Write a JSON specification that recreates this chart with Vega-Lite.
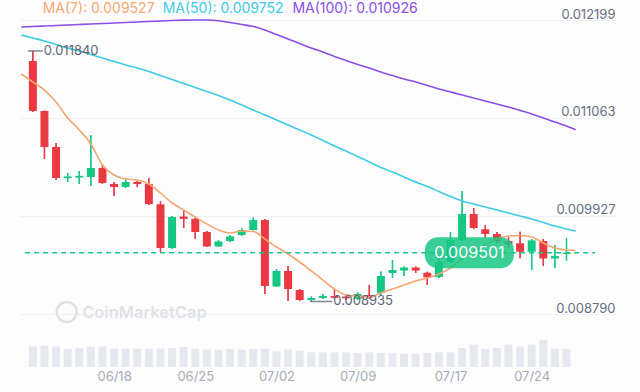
{
  "$schema": "https://vega.github.io/schema/vega-lite/v6.json",
  "width": 595,
  "height": 351,
  "padding": {"left": 20, "top": 16, "right": 25, "bottom": 25},
  "autosize": {"type": "none"},
  "background": "#fdfdfe",
  "config": {"font": "Inter", "view": {"stroke": null}},
  "datasets": {
    "candles": [
      {"d":"2024-06-11T00:00:00","o":0.011724,"h":0.01184,"l":0.011132,"c":0.011144,"v":20.6},
      {"d":"2024-06-12T00:00:00","o":0.011144,"h":0.01115,"l":0.010587,"c":0.010726,"v":21.3},
      {"d":"2024-06-13T00:00:00","o":0.010726,"h":0.010773,"l":0.010344,"c":0.010367,"v":20.6},
      {"d":"2024-06-14T00:00:00","o":0.010365,"h":0.010425,"l":0.010321,"c":0.010385,"v":18},
      {"d":"2024-06-15T00:00:00","o":0.010372,"h":0.010448,"l":0.010297,"c":0.010392,"v":19},
      {"d":"2024-06-16T00:00:00","o":0.010378,"h":0.010866,"l":0.010274,"c":0.010483,"v":20.3},
      {"d":"2024-06-17T00:00:00","o":0.010483,"h":0.010518,"l":0.010297,"c":0.010309,"v":20.6},
      {"d":"2024-06-18T00:00:00","o":0.010297,"h":0.010321,"l":0.010158,"c":0.010263,"v":18.3},
      {"d":"2024-06-19T00:00:00","o":0.010263,"h":0.010367,"l":0.010251,"c":0.010321,"v":18.3},
      {"d":"2024-06-20T00:00:00","o":0.010321,"h":0.010332,"l":0.010263,"c":0.010297,"v":18.3},
      {"d":"2024-06-21T00:00:00","o":0.010297,"h":0.010367,"l":0.010054,"c":0.010065,"v":18.3},
      {"d":"2024-06-22T00:00:00","o":0.010062,"h":0.0101,"l":0.009509,"c":0.009555,"v":18.3},
      {"d":"2024-06-23T00:00:00","o":0.009555,"h":0.009926,"l":0.009544,"c":0.009915,"v":19},
      {"d":"2024-06-24T00:00:00","o":0.00992,"h":0.009984,"l":0.009787,"c":0.009892,"v":20},
      {"d":"2024-06-25T00:00:00","o":0.009892,"h":0.009903,"l":0.00966,"c":0.009741,"v":18.3},
      {"d":"2024-06-26T00:00:00","o":0.009741,"h":0.009753,"l":0.009567,"c":0.009573,"v":17.3},
      {"d":"2024-06-27T00:00:00","o":0.009573,"h":0.009648,"l":0.009567,"c":0.009631,"v":17.3},
      {"d":"2024-06-28T00:00:00","o":0.009636,"h":0.009706,"l":0.009625,"c":0.009689,"v":18},
      {"d":"2024-06-29T00:00:00","o":0.009706,"h":0.009787,"l":0.009695,"c":0.009764,"v":17.3},
      {"d":"2024-06-30T00:00:00","o":0.009764,"h":0.009909,"l":0.009757,"c":0.00988,"v":18},
      {"d":"2024-07-01T00:00:00","o":0.00988,"h":0.009892,"l":0.009022,"c":0.009115,"v":18.3},
      {"d":"2024-07-02T00:00:00","o":0.009109,"h":0.009312,"l":0.009103,"c":0.009289,"v":15.6},
      {"d":"2024-07-03T00:00:00","o":0.009289,"h":0.009347,"l":0.008941,"c":0.00908,"v":17.3},
      {"d":"2024-07-04T00:00:00","o":0.009068,"h":0.00908,"l":0.008945,"c":0.008952,"v":16.3},
      {"d":"2024-07-05T00:00:00","o":0.008952,"h":0.008993,"l":0.008935,"c":0.008975,"v":14.6},
      {"d":"2024-07-06T00:00:00","o":0.008976,"h":0.009022,"l":0.008964,"c":0.008999,"v":14.6},
      {"d":"2024-07-07T00:00:00","o":0.008999,"h":0.00908,"l":0.008964,"c":0.008978,"v":14.6},
      {"d":"2024-07-08T00:00:00","o":0.008992,"h":0.009022,"l":0.008952,"c":0.008972,"v":14.6},
      {"d":"2024-07-09T00:00:00","o":0.008964,"h":0.009039,"l":0.008952,"c":0.009022,"v":14},
      {"d":"2024-07-10T00:00:00","o":0.00901,"h":0.009126,"l":0.008964,"c":0.008981,"v":14.6},
      {"d":"2024-07-11T00:00:00","o":0.009034,"h":0.009283,"l":0.00901,"c":0.009231,"v":14},
      {"d":"2024-07-12T00:00:00","o":0.009266,"h":0.009416,"l":0.009207,"c":0.0093,"v":14},
      {"d":"2024-07-13T00:00:00","o":0.009294,"h":0.009341,"l":0.009231,"c":0.009329,"v":13.3},
      {"d":"2024-07-14T00:00:00","o":0.009329,"h":0.009341,"l":0.009266,"c":0.009294,"v":13.3},
      {"d":"2024-07-15T00:00:00","o":0.009269,"h":0.009281,"l":0.009126,"c":0.009216,"v":14},
      {"d":"2024-07-16T00:00:00","o":0.009219,"h":0.009474,"l":0.009207,"c":0.009393,"v":14.6},
      {"d":"2024-07-17T00:00:00","o":0.009393,"h":0.009741,"l":0.009381,"c":0.009648,"v":14.6},
      {"d":"2024-07-18T00:00:00","o":0.009648,"h":0.010216,"l":0.009636,"c":0.00995,"v":19},
      {"d":"2024-07-19T00:00:00","o":0.00995,"h":0.010019,"l":0.009776,"c":0.009787,"v":22.3},
      {"d":"2024-07-20T00:00:00","o":0.009772,"h":0.009822,"l":0.009671,"c":0.009718,"v":18},
      {"d":"2024-07-21T00:00:00","o":0.009717,"h":0.009741,"l":0.009613,"c":0.009636,"v":19},
      {"d":"2024-07-22T00:00:00","o":0.009636,"h":0.00968,"l":0.00956,"c":0.0096,"v":22.3},
      {"d":"2024-07-23T00:00:00","o":0.00961,"h":0.009744,"l":0.009436,"c":0.009512,"v":20.6},
      {"d":"2024-07-24T00:00:00","o":0.009512,"h":0.00966,"l":0.0093,"c":0.009644,"v":22.3},
      {"d":"2024-07-25T00:00:00","o":0.009636,"h":0.009659,"l":0.009347,"c":0.009434,"v":27.3},
      {"d":"2024-07-26T00:00:00","o":0.009434,"h":0.00959,"l":0.009323,"c":0.009463,"v":18.3},
      {"d":"2024-07-27T00:00:00","o":0.009486,"h":0.009668,"l":0.00941,"c":0.009501,"v":18}
    ],
    "ma": [
      {"d":"2024-06-10T00:00:00","m7":0.011573,"m50":0.012025,"m100":0.012118},
      {"d":"2024-06-11T00:00:00","m7":0.01148,"m50":0.01199,"m100":0.012124},
      {"d":"2024-06-12T00:00:00","m7":0.011387,"m50":0.011956,"m100":0.012129},
      {"d":"2024-06-13T00:00:00","m7":0.011248,"m50":0.011915,"m100":0.012135},
      {"d":"2024-06-14T00:00:00","m7":0.011063,"m50":0.011874,"m100":0.012141},
      {"d":"2024-06-15T00:00:00","m7":0.010924,"m50":0.01184,"m100":0.012147},
      {"d":"2024-06-16T00:00:00","m7":0.010761,"m50":0.011799,"m100":0.012153},
      {"d":"2024-06-17T00:00:00","m7":0.010518,"m50":0.011758,"m100":0.012158},
      {"d":"2024-06-18T00:00:00","m7":0.010402,"m50":0.011718,"m100":0.012164},
      {"d":"2024-06-19T00:00:00","m7":0.010355,"m50":0.011677,"m100":0.01217},
      {"d":"2024-06-20T00:00:00","m7":0.010344,"m50":0.011642,"m100":0.012176},
      {"d":"2024-06-21T00:00:00","m7":0.010297,"m50":0.011602,"m100":0.012182},
      {"d":"2024-06-22T00:00:00","m7":0.010193,"m50":0.011555,"m100":0.012187},
      {"d":"2024-06-23T00:00:00","m7":0.010077,"m50":0.011509,"m100":0.012193},
      {"d":"2024-06-24T00:00:00","m7":0.009996,"m50":0.011463,"m100":0.012197},
      {"d":"2024-06-25T00:00:00","m7":0.009915,"m50":0.011416,"m100":0.012199},
      {"d":"2024-06-26T00:00:00","m7":0.009834,"m50":0.01137,"m100":0.012199},
      {"d":"2024-06-27T00:00:00","m7":0.009764,"m50":0.011324,"m100":0.012191},
      {"d":"2024-06-28T00:00:00","m7":0.009729,"m50":0.011271,"m100":0.01217},
      {"d":"2024-06-29T00:00:00","m7":0.009752,"m50":0.011213,"m100":0.012147},
      {"d":"2024-06-30T00:00:00","m7":0.009747,"m50":0.011155,"m100":0.012124},
      {"d":"2024-07-01T00:00:00","m7":0.00966,"m50":0.011097,"m100":0.012083},
      {"d":"2024-07-02T00:00:00","m7":0.009567,"m50":0.01104,"m100":0.012031},
      {"d":"2024-07-03T00:00:00","m7":0.009486,"m50":0.010982,"m100":0.011979},
      {"d":"2024-07-04T00:00:00","m7":0.009393,"m50":0.010924,"m100":0.011927},
      {"d":"2024-07-05T00:00:00","m7":0.009289,"m50":0.010866,"m100":0.011874},
      {"d":"2024-07-06T00:00:00","m7":0.009184,"m50":0.010802,"m100":0.011828},
      {"d":"2024-07-07T00:00:00","m7":0.00908,"m50":0.010738,"m100":0.011776},
      {"d":"2024-07-08T00:00:00","m7":0.00901,"m50":0.01068,"m100":0.011729},
      {"d":"2024-07-09T00:00:00","m7":0.008999,"m50":0.010616,"m100":0.011683},
      {"d":"2024-07-10T00:00:00","m7":0.008987,"m50":0.010553,"m100":0.011642},
      {"d":"2024-07-11T00:00:00","m7":0.009034,"m50":0.010489,"m100":0.011596},
      {"d":"2024-07-12T00:00:00","m7":0.00908,"m50":0.010437,"m100":0.011555},
      {"d":"2024-07-13T00:00:00","m7":0.009126,"m50":0.010379,"m100":0.011515},
      {"d":"2024-07-14T00:00:00","m7":0.009173,"m50":0.010321,"m100":0.01148},
      {"d":"2024-07-15T00:00:00","m7":0.009207,"m50":0.010268,"m100":0.01144},
      {"d":"2024-07-16T00:00:00","m7":0.009254,"m50":0.01021,"m100":0.011399},
      {"d":"2024-07-17T00:00:00","m7":0.009323,"m50":0.010152,"m100":0.011364},
      {"d":"2024-07-18T00:00:00","m7":0.009428,"m50":0.0101,"m100":0.011329},
      {"d":"2024-07-19T00:00:00","m7":0.00952,"m50":0.010066,"m100":0.011295},
      {"d":"2024-07-20T00:00:00","m7":0.00959,"m50":0.010031,"m100":0.01126},
      {"d":"2024-07-21T00:00:00","m7":0.00966,"m50":0.009996,"m100":0.011225},
      {"d":"2024-07-22T00:00:00","m7":0.009694,"m50":0.009961,"m100":0.01119},
      {"d":"2024-07-23T00:00:00","m7":0.0097,"m50":0.009926,"m100":0.01115},
      {"d":"2024-07-24T00:00:00","m7":0.009683,"m50":0.009892,"m100":0.011109},
      {"d":"2024-07-25T00:00:00","m7":0.009613,"m50":0.009851,"m100":0.011063},
      {"d":"2024-07-26T00:00:00","m7":0.009555,"m50":0.00981,"m100":0.011016},
      {"d":"2024-07-27T00:00:00","m7":0.009532,"m50":0.009776,"m100":0.01097},
      {"d":"2024-07-27T19:00:00","m7":0.009527,"m50":0.009752,"m100":0.010926}
    ]
  },
  "encoding": {
    "x": {
      "field": "d",
      "type": "temporal",
      "scale": {"domain": [{"year": 2024, "month": 6, "date": 10, "hours": 7, "minutes": 44}, {"year": 2024, "month": 7, "date": 30, "hours": 18}]},
      "axis": {
        "values": [{"year": 2024, "month": 6, "date": 18}, {"year": 2024, "month": 6, "date": 25}, {"year": 2024, "month": 7, "date": 2}, {"year": 2024, "month": 7, "date": 9}, {"year": 2024, "month": 7, "date": 17}, {"year": 2024, "month": 7, "date": 24}],
        "format": "%m/%d",
        "domain": false,
        "ticks": false,
        "grid": false,
        "labelPadding": 3,
        "labelFontSize": 13,
        "labelColor": "#a4abb8",
        "labelFlush": false,
        "title": null
      }
    }
  },
  "layer": [
    {
      "data": {"name": "candles"},
      "mark": {"type": "bar", "size": 8, "color": "#e5e8ee"},
      "encoding": {
        "y": {"field": "v", "type": "quantitative", "scale": {"domain": [0, 351]}, "axis": null}
      }
    },
    {
      "data": {"name": "candles"},
      "mark": {"type": "rule", "strokeWidth": 1.3},
      "encoding": {
        "y": {
          "field": "l",
          "type": "quantitative",
          "scale": {"domain": [0.0081755, 0.0122454], "nice": false, "zero": false},
          "axis": {
            "orient": "right",
            "values": [0.00879, 0.009927, 0.011063, 0.012199],
            "format": ".6f",
            "domain": false,
            "ticks": false,
            "tickSize": 0,
            "labelPadding": 0,
            "labelAlign": "right",
            "labelBaseline": "alphabetic",
            "labelOffset": -2,
            "labelFontSize": 13,
            "labelColor": "#656f81",
            "labelFlush": false,
            "grid": true,
            "gridColor": "#eef0f3",
            "gridWidth": 1,
            "title": null
          }
        },
        "y2": {"field": "h"},
        "color": {"condition": {"test": "datum.c >= datum.o", "value": "#16c784"}, "value": "#ea3943"}
      }
    },
    {
      "data": {"values": [{"d": "2024-06-15T06:00:00", "p": 0.0088016, "t": "CoinMarketCap"}]},
      "mark": {"type": "text", "align": "left", "baseline": "middle", "fontSize": 16.5, "fontWeight": 600, "color": "#dfe3e8"},
      "encoding": {
        "y": {"field": "p", "type": "quantitative", "scale": {"domain": [0.0081755, 0.0122454], "nice": false, "zero": false}, "axis": null},
        "text": {"field": "t"}
      }
    },
    {
      "data": {"values": [{"d": "2024-06-13T22:00:00", "p": 0.008813}]},
      "mark": {"type": "point", "shape": "circle", "size": 400, "filled": false, "strokeWidth": 2.5, "color": "#dfe3e8", "opacity": 1},
      "encoding": {
        "y": {"field": "p", "type": "quantitative", "scale": {"domain": [0.0081755, 0.0122454], "nice": false, "zero": false}, "axis": null}
      }
    },
    {
      "data": {"name": "candles"},
      "mark": {"type": "rule", "strokeWidth": 1.3},
      "encoding": {
        "y": {"field": "l", "type": "quantitative", "scale": {"domain": [0.0081755, 0.0122454], "nice": false, "zero": false}, "axis": null},
        "y2": {"field": "h"},
        "color": {"condition": {"test": "datum.c >= datum.o", "value": "#16c784"}, "value": "#ea3943"}
      }
    },
    {
      "data": {"name": "candles"},
      "mark": {"type": "bar", "size": 8},
      "encoding": {
        "y": {"field": "o", "type": "quantitative", "scale": {"domain": [0.0081755, 0.0122454], "nice": false, "zero": false}, "axis": null},
        "y2": {"field": "c"},
        "color": {"condition": {"test": "datum.c >= datum.o", "value": "#16c784"}, "value": "#ea3943"}
      }
    },
    {
      "data": {"name": "ma"},
      "transform": [{"fold": ["m7", "m50", "m100"]}],
      "mark": {"type": "line", "strokeWidth": 1.6, "interpolate": "monotone", "clip": true},
      "encoding": {
        "y": {"field": "value", "type": "quantitative", "scale": {"domain": [0.0081755, 0.0122454], "nice": false, "zero": false}, "axis": null},
        "color": {
          "field": "key",
          "type": "nominal",
          "scale": {"domain": ["m7", "m50", "m100"], "range": ["#f6a66f", "#3ccbe6", "#8a4fe8"]},
          "legend": null
        }
      }
    },
    {
      "data": {"values": [
        {"d": "2024-06-11T20:20:00", "p": 0.0123265, "key": "m7", "t": "MA(7): 0.009527"},
        {"d": "2024-06-22T04:30:00", "p": 0.0123265, "key": "m50", "t": "MA(50): 0.009752"},
        {"d": "2024-07-03T09:00:00", "p": 0.0123265, "key": "m100", "t": "MA(100): 0.010926"}
      ]},
      "mark": {"type": "text", "align": "left", "baseline": "middle", "fontSize": 14},
      "encoding": {
        "y": {"field": "p", "type": "quantitative", "scale": {"domain": [0.0081755, 0.0122454], "nice": false, "zero": false}, "axis": null},
        "text": {"field": "t"},
        "color": {"field": "key", "type": "nominal", "legend": null}
      }
    },
    {
      "data": {"values": [{"d": "2024-06-10T08:00:00", "d2": "2024-07-29T11:00:00", "p": 0.009501}]},
      "mark": {"type": "rule", "strokeWidth": 1.5, "strokeDash": [5, 4], "color": "#16c784"},
      "encoding": {
        "x2": {"field": "d2"},
        "y": {"field": "p", "type": "quantitative", "scale": {"domain": [0.0081755, 0.0122454], "nice": false, "zero": false}, "axis": null}
      }
    },
    {
      "data": {"values": [{"d": "2024-06-11T00:00:00", "p": 0.01184, "t": "0.011840"}]},
      "layer": [
        {"mark": {"type": "tick", "orient": "horizontal", "size": 15, "thickness": 1.5, "xOffset": 2.5, "color": "#4f5666"}},
        {"mark": {"type": "text", "align": "left", "baseline": "middle", "dx": 11, "fontSize": 13, "color": "#5d6576"}, "encoding": {"text": {"field": "t"}}}
      ],
      "encoding": {"y": {"field": "p", "type": "quantitative", "scale": {"domain": [0.0081755, 0.0122454], "nice": false, "zero": false}, "axis": null}}
    },
    {
      "data": {"values": [{"d": "2024-07-05T00:00:00", "p": 0.008935, "t": "0.008935"}]},
      "layer": [
        {"mark": {"type": "tick", "orient": "horizontal", "size": 22, "thickness": 1.5, "xOffset": 10, "color": "#4f5666"}},
        {"mark": {"type": "text", "align": "left", "baseline": "middle", "dx": 22, "fontSize": 13, "color": "#5d6576"}, "encoding": {"text": {"field": "t"}}}
      ],
      "encoding": {"y": {"field": "p", "type": "quantitative", "scale": {"domain": [0.0081755, 0.0122454], "nice": false, "zero": false}, "axis": null}}
    },
    {
      "data": {"values": [{"d": "2024-07-18T15:00:00", "p": 0.009501, "t": "0.009501"}]},
      "layer": [
        {"mark": {"type": "rect", "width": 89, "height": 31, "cornerRadius": 13, "color": "#16c784", "opacity": 0.85}},
        {"mark": {"type": "text", "align": "center", "baseline": "middle", "fontSize": 16, "color": "#ffffff"}, "encoding": {"text": {"field": "t"}}}
      ],
      "encoding": {"y": {"field": "p", "type": "quantitative", "scale": {"domain": [0.0081755, 0.0122454], "nice": false, "zero": false}, "axis": null}}
    }
  ],
  "resolve": {"scale": {"y": "independent"}}
}
